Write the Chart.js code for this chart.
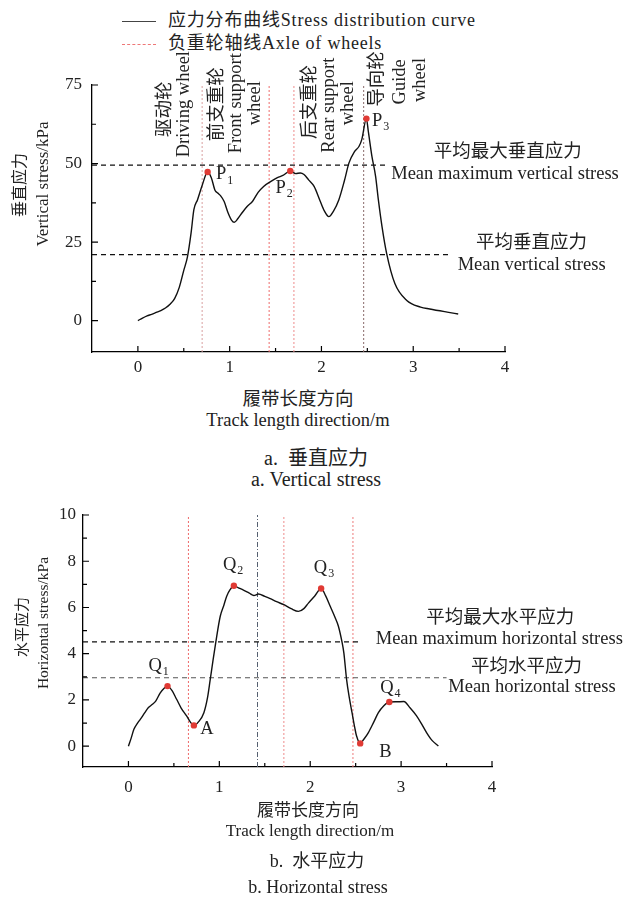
<!DOCTYPE html>
<html>
<head>
<meta charset="utf-8">
<script src="https://cdn.jsdelivr.net/npm/chart.js@4"></script>
<style>
  body { margin: 0; background: #fff; width: 625px; height: 899px; position: relative; overflow: hidden;
         font-family: 'Liberation Serif', 'Noto Sans CJK SC', serif; color: #222; }
  .box { position: absolute; left: 0; width: 625px; }
  .t { position: absolute; white-space: nowrap; font-size: 17px; transform: translate(-50%, -50%); }
  .yt { position: absolute; white-space: nowrap; font-size: 17px; transform: translate(-50%, -50%) rotate(-90deg); }
  .leg { position: absolute; left: 122px; white-space: nowrap; font-size: 18px; letter-spacing: 0.8px; }
  .leg span.s { display: inline-block; width: 34px; vertical-align: middle; margin-right: 12px; }
</style>
</head>
<body>
<div class="leg" style="top:5px"><span class="s" style="border-top:1.5px solid #444"></span>应力分布曲线Stress distribution curve</div>
<div class="leg" style="top:28px"><span class="s" style="border-top:1px dashed #e77"></span>负重轮轴线Axle of wheels</div>

<div class="box" style="top:0;height:380px"><canvas id="chartA"></canvas></div>
<div class="yt" style="left:18px;top:185px;font-size:16px">垂直应力</div>
<div class="yt" style="left:43px;top:184px">Vertical stress/kPa</div>
<div class="t" style="left:298px;top:397px;font-size:18.5px">履带长度方向</div>
<div class="t" style="left:298px;top:420px;font-size:18.5px">Track length direction/m</div>
<div class="t" style="left:316px;top:456px;font-size:20px">a.&nbsp; 垂直应力</div>
<div class="t" style="left:316px;top:479px;font-size:20px">a. Vertical stress</div>

<div class="box" style="top:490px;height:310px"><canvas id="chartB"></canvas></div>
<div class="yt" style="left:20px;top:627px;font-size:15px">水平应力</div>
<div class="yt" style="left:43px;top:623px;font-size:15.5px">Horizontal stress/kPa</div>
<div class="t" style="left:308px;top:808px">履带长度方向</div>
<div class="t" style="left:310px;top:831px">Track length direction/m</div>
<div class="t" style="left:317px;top:859px;font-size:18px">b.&nbsp; 水平应力</div>
<div class="t" style="left:318px;top:887px;font-size:18px">b. Horizontal stress</div>

<script>
// ---- vertical stress (chart a) ----
const vertX = [0.00, 0.05, 0.10, 0.15, 0.20, 0.25, 0.30, 0.35, 0.40, 0.45, 0.50, 0.54, 0.58, 0.61, 0.65, 0.70, 0.76,
  0.80, 0.84, 0.87, 0.90, 0.94, 0.98, 1.02, 1.05, 1.09, 1.14, 1.19, 1.25, 1.31, 1.37, 1.45, 1.52, 1.58, 1.66,
  1.72, 1.77, 1.81, 1.86, 1.92, 1.98, 2.03, 2.08, 2.13, 2.19, 2.25, 2.30, 2.36, 2.41, 2.44, 2.49, 2.51, 2.55,
  2.59, 2.62, 2.66, 2.71, 2.80, 2.93, 3.08, 3.18, 3.37, 3.49];
const vertY = [0.0, 0.8, 1.5, 2.0, 2.6, 3.2, 4.0, 5.2, 7.0, 10.5, 16.0, 20.3, 28.0, 35.3, 38.5, 43.0, 47.3,
  45.5, 41.5, 40.6, 39.8, 37.9, 34.5, 32.0, 31.3, 32.5, 34.5, 36.3, 38.0, 40.8, 42.7, 44.3, 45.5, 46.2, 47.6,
  46.8, 47.0, 46.5, 44.8, 42.7, 38.5, 35.0, 33.1, 34.8, 38.5, 44.5, 50.2, 53.8, 55.5, 57.7, 64.3, 60.4, 52.3,
  45.9, 38.5, 29.9, 21.4, 11.8, 6.4, 4.3, 3.7, 2.7, 2.1];
const peakVX = [0.76, 1.66, 2.49];
const peakVY = [47.3, 47.6, 64.3];
const peakVNames = ['1', '2', '3'];
const axleA = [0.70, 1.43, 1.70, 2.46];
const meanA = [49.5, 21.0];          // mean maximum / mean vertical stress
const meanAEnd = [2.71, 3.42];
const xTicksA = [0, 1, 2, 3, 4];
const yTicksA = [0, 25, 50, 75];

// ---- horizontal stress (chart b) ----
const horzX = [0.00, 0.03, 0.06, 0.10, 0.13, 0.18, 0.22, 0.26, 0.30, 0.35, 0.39, 0.43, 0.48, 0.53, 0.58, 0.64,
  0.68, 0.72, 0.77, 0.83, 0.87, 0.90, 0.93, 0.96, 1.01, 1.05, 1.08, 1.12, 1.16, 1.21, 1.27, 1.33, 1.38, 1.43,
  1.50, 1.56, 1.63, 1.71, 1.79, 1.87, 1.93, 1.98, 2.05, 2.12, 2.17, 2.22, 2.27, 2.31, 2.35, 2.37, 2.40, 2.43,
  2.46, 2.49, 2.51, 2.55, 2.59, 2.64, 2.70, 2.75, 2.81, 2.87, 2.95, 3.03, 3.10, 3.17, 3.22, 3.28, 3.34, 3.41];
const horzY = [0.00, 0.35, 0.73, 1.00, 1.16, 1.45, 1.67, 1.80, 1.95, 2.31, 2.50, 2.60, 2.40, 2.03, 1.65, 1.31,
  1.05, 0.90, 1.05, 1.45, 2.10, 2.89, 3.70, 4.47, 5.62, 6.10, 6.48, 6.78, 6.94, 6.85, 6.74, 6.62, 6.52, 6.58,
  6.48, 6.38, 6.25, 6.12, 5.95, 5.83, 5.95, 6.19, 6.50, 6.82, 6.50, 6.05, 5.60, 5.19, 4.50, 4.04, 2.89, 2.10,
  1.45, 0.80, 0.44, 0.12, 0.30, 0.59, 1.05, 1.45, 1.75, 1.91, 1.92, 1.93, 1.65, 1.31, 1.00, 0.59, 0.25, 0.01];
const peakHX = [0.43, 0.72, 1.16, 2.12, 2.55, 2.87];
const peakHY = [2.60, 0.90, 6.94, 6.82, 0.12, 1.91];
const axleB = [0.66, 1.42, 1.71, 2.47];
const meanB = [4.51, 2.96];          // mean maximum / mean horizontal stress
const meanBEnd = [2.57, 3.50];
const xTicksB = [0, 1, 2, 3, 4];
const yTicksB = [0, 2, 4, 6, 8, 10];

const FONT = "'Liberation Serif','Noto Sans CJK SC',serif";
const RED = '#e03a34';

function pts(xs, ys) { return xs.map((x, i) => ({ x: x, y: ys[i] })); }

// inward tick marks, as in the original plot
function innerTicks(xMajor, xMinor, yMajor, yMinor) {
  return {
    id: 'innerTicks',
    afterDraw(chart) {
      const { ctx, chartArea, scales: { x, y } } = chart;
      ctx.save();
      ctx.strokeStyle = '#000';
      ctx.lineWidth = 1.2;
      ctx.beginPath();
      xMajor.forEach(v => { const p = x.getPixelForValue(v); ctx.moveTo(p, chartArea.bottom); ctx.lineTo(p, chartArea.bottom - 6); });
      xMinor.forEach(v => { const p = x.getPixelForValue(v); ctx.moveTo(p, chartArea.bottom); ctx.lineTo(p, chartArea.bottom - 4); });
      yMajor.forEach(v => { const p = y.getPixelForValue(v); ctx.moveTo(chartArea.left, p); ctx.lineTo(chartArea.left + 6, p); });
      yMinor.forEach(v => { const p = y.getPixelForValue(v); ctx.moveTo(chartArea.left, p); ctx.lineTo(chartArea.left + 4, p); });
      ctx.stroke();
      ctx.restore();
    }
  };
}

// text labels placed in data units
function notes(list) {
  return {
    id: 'notes',
    afterDraw(chart) {
      const { ctx, scales: { x, y } } = chart;
      ctx.save();
      ctx.fillStyle = '#222';
      list.forEach(n => {
        const px = x.getPixelForValue(n.x), py = y.getPixelForValue(n.y);
        ctx.save();
        ctx.translate(px, py);
        if (n.rot) ctx.rotate(-Math.PI / 2);
        ctx.font = (n.size || 18.5) + 'px ' + FONT;
        ctx.textAlign = n.align || 'center';
        ctx.textBaseline = 'middle';
        ctx.fillText(n.text, 0, 0);
        if (n.sub) {
          const w = ctx.measureText(n.text).width;
          ctx.font = '12px ' + FONT;
          ctx.textAlign = 'left';
          ctx.fillText(n.sub, n.align === 'left' ? w + 1 : w / 2 + 1, 6);
        }
        ctx.restore();
      });
      ctx.restore();
    }
  };
}

function makeChart(id, cfg) {
  const datasets = [
    { data: pts(cfg.peakX, cfg.peakY), showLine: false, pointRadius: 3.2, pointBackgroundColor: RED, pointBorderWidth: 0 },
    { data: pts(cfg.curveX, cfg.curveY), borderColor: '#111', borderWidth: 1.4, pointRadius: 0, cubicInterpolationMode: 'monotone' }
  ];
  cfg.means.forEach((m, i) => datasets.push({
    data: [{ x: cfg.xMin, y: m }, { x: cfg.meanEnd[i], y: m }],
    borderColor: cfg.meanColors[i], borderWidth: 1.1, borderDash: [5, 4], pointRadius: 0
  }));
  cfg.axles.forEach((a, i) => datasets.push({
    data: [{ x: a, y: cfg.yMin }, { x: a, y: cfg.yMax }],
    borderColor: cfg.axleColors[i], borderWidth: 1, borderDash: cfg.axleDash[i], pointRadius: 0
  }));

  return new Chart(document.getElementById(id), {
    type: 'line',
    data: { datasets: datasets },
    options: {
      responsive: true,
      maintainAspectRatio: false,
      animation: false,
      layout: { padding: cfg.padding },
      plugins: { legend: { display: false }, tooltip: { enabled: false } },
      scales: {
        x: {
          type: 'linear', min: cfg.xMin, max: 4,
          afterBuildTicks: s => { s.ticks = cfg.xTicks.map(v => ({ value: v })); },
          afterFit: s => { s.height = cfg.xHeight; },
          ticks: { color: '#222', font: { family: FONT, size: 17 }, padding: cfg.xPad, autoSkip: false, maxRotation: 0 },
          grid: { display: false, drawTicks: false },
          border: { display: true, color: '#000', width: 1.3 }
        },
        y: {
          min: cfg.yMin, max: cfg.yMax,
          afterBuildTicks: s => { s.ticks = cfg.yTicks.map(v => ({ value: v })); },
          afterFit: s => { s.width = cfg.yWidth; },
          ticks: { color: '#222', font: { family: FONT, size: 17 }, padding: cfg.yPad, autoSkip: false },
          grid: { display: false, drawTicks: false },
          border: { display: true, color: '#000', width: 1.3 }
        }
      }
    },
    plugins: [innerTicks(cfg.xTicks, [0.5, 1.5, 2.5, 3.5], cfg.yTicks, cfg.yMinor), notes(cfg.notes)]
  });
}

makeChart('chartA', {
  curveX: vertX, curveY: vertY, peakX: peakVX, peakY: peakVY,
  axles: axleA, axleColors: ['#d9a0a0', '#ee6b6b', '#ee8c8c', '#8a6a6a'], axleDash: [[2, 2], [2, 2], [2, 2], [2, 2]],
  means: meanA, meanEnd: meanAEnd, meanColors: ['#111', '#111'],
  xMin: -0.5, yMin: -10, yMax: 75, xTicks: xTicksA, yTicks: yTicksA, yMinor: [12.5, 37.5, 62.5],
  padding: { top: 85, right: 120, left: 0, bottom: 0 }, xHeight: 28, yWidth: 92, yPad: 10, xPad: 5,
  notes: [
    { text: '驱动轮', x: 0.30, y: 67.3, rot: true },
    { text: 'Driving wheel', x: 0.50, y: 68.9, rot: true },
    { text: '前支重轮', x: 0.86, y: 68.9, rot: true },
    { text: 'Front support', x: 1.07, y: 69.2, rot: true },
    { text: 'wheel', x: 1.28, y: 69.2, rot: true },
    { text: '后支重轮', x: 1.88, y: 69.6, rot: true },
    { text: 'Rear support', x: 2.08, y: 68.6, rot: true },
    { text: 'wheel', x: 2.29, y: 69.2, rot: true },
    { text: '导向轮', x: 2.61, y: 76.9, rot: true },
    { text: 'Guide', x: 2.86, y: 76.0, rot: true },
    { text: 'wheel', x: 3.08, y: 76.6, rot: true },
    { text: 'P', sub: peakVNames[0], x: 0.85, y: 46.5, align: 'left' },
    { text: 'P', sub: peakVNames[1], x: 1.50, y: 42.3, align: 'left' },
    { text: 'P', sub: peakVNames[2], x: 2.55, y: 63.6, align: 'left' },
    { text: '平均最大垂直应力', x: 4.03, y: 53.5 },
    { text: 'Mean maximum vertical stress', x: 4.00, y: 46.5 },
    { text: '平均垂直应力', x: 4.29, y: 24.7 },
    { text: 'Mean vertical stress', x: 4.29, y: 17.6 }
  ]
});

makeChart('chartB', {
  curveX: horzX, curveY: horzY, peakX: peakHX, peakY: peakHY,
  axles: axleB, axleColors: ['#ee6b6b', '#556070', '#ee8c8c', '#ee7b7b'], axleDash: [[2, 2], [5, 2, 1, 2], [2, 2], [2, 2]],
  means: meanB, meanEnd: meanBEnd, meanColors: ['#111', '#555'],
  xMin: -0.5, yMin: -0.9, yMax: 10, xTicks: xTicksB, yTicks: yTicksB, yMinor: [1, 3, 5, 7, 9],
  padding: { top: 25, right: 133, left: 0, bottom: 0 }, xHeight: 33, yWidth: 83, yPad: 7, xPad: 10,
  notes: [
    { text: 'Q', sub: '1', x: 0.22, y: 3.46, align: 'left' },
    { text: 'A', x: 0.79, y: 0.73, align: 'left' },
    { text: 'Q', sub: '2', x: 1.04, y: 7.84, align: 'left' },
    { text: 'Q', sub: '3', x: 2.04, y: 7.70, align: 'left' },
    { text: 'B', x: 2.76, y: -0.27, align: 'left' },
    { text: 'Q', sub: '4', x: 2.77, y: 2.53, align: 'left' },
    { text: '平均最大水平应力', x: 4.09, y: 5.56 },
    { text: 'Mean maximum horizontal stress', x: 4.08, y: 4.61 },
    { text: '平均水平应力', x: 4.38, y: 3.41 },
    { text: 'Mean horizontal stress', x: 4.44, y: 2.54 }
  ]
});
</script>
</body>
</html>
